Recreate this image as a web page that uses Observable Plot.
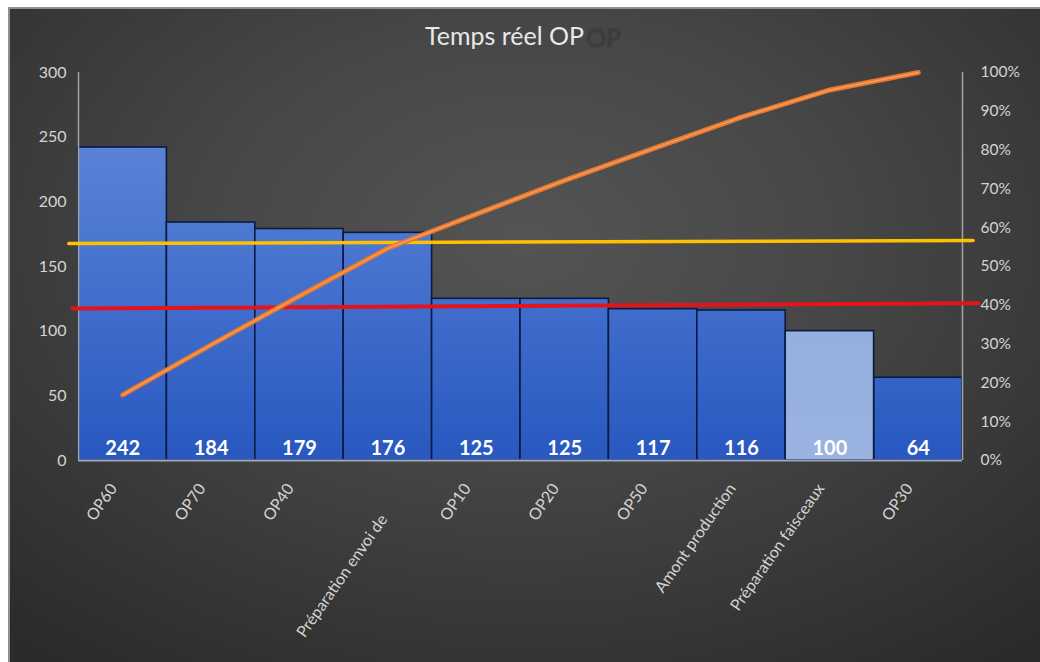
<!DOCTYPE html>
<html><head><meta charset="utf-8">
<script src="https://cdn.jsdelivr.net/npm/d3@7"></script>
<script src="https://cdn.jsdelivr.net/npm/@observablehq/plot@0.6"></script>
<style>
html,body{margin:0;padding:0;background:#fff;width:1040px;height:662px;overflow:hidden}
#frame{position:absolute;left:8px;top:7px;width:1032px;height:655px;box-sizing:border-box;border-left:2px solid #8f8f8f;border-top:2px solid #8f8f8f;background:radial-gradient(ellipse 75% 80% at 50% 35%, #545454 0%, #474747 40%, #2b2b2b 100%);font-family:Lato,"Open Sans",sans-serif;overflow:hidden}
#title{position:relative;height:48px;box-sizing:border-box}
#title .main{position:absolute;left:415px;top:12px;font-size:25px;color:#e8e8e8;line-height:28px;white-space:nowrap;z-index:2}
#title .ghost{position:absolute;left:576px;top:14px;font-size:25px;color:#363636;line-height:28px;filter:blur(1.2px);z-index:1}
svg{display:block}
</style></head>
<body>
<div id="frame">
  <div id="title"><span class="ghost">OP</span><span class="main">Temps réel OP</span></div>
  <div id="chart"></div>
</div>
<script>
const categories = ["OP60","OP70","OP40","Préparation envoi de","OP10","OP20","OP50","Amont production","Préparation faisceaux","OP30"];
const values = [242,184,179,176,125,125,117,116,100,64];
const cumulPct = [16.9,29.8,42.4,54.7,63.5,72.2,80.4,88.5,95.5,100];
const yellowPct = [55.9,56.7];
const redPct = [39.2,40.5];
const lineEndsX = [-0.11,10.12];
const redEndsX = [-0.07,10.18];
const leftTicks = [0,50,100,150,200,250,300];
const rightTicks = [0,10,20,30,40,50,60,70,80,90,100];
const highlighted = ["Préparation faisceaux"];
const wrappedLabels = ["Préparation envoi de"];

const bars = categories.map((c,i)=>({cat:c, i, v:values[i], pct:cumulPct[i]}));
const toLeft = p => p*3;
const yellow = lineEndsX.map((x,k)=>({x, y:toLeft(yellowPct[k])}));
const red = redEndsX.map((x,k)=>({x, y:toLeft(redPct[k])}));
const labelStyle = {x:d=>d.i+0.5, y:0, text:"cat", rotate:-55, textAnchor:"end", fill:"#d4d4d4", fontSize:16, letterSpacing:"0.8px"};

const chart = Plot.plot({
  width:1030, height:605,
  marginTop:15, marginBottom:202, marginLeft:68, marginRight:78,
  style:{background:"transparent", color:"#d9d9d9", fontFamily:"Lato, 'Open Sans', sans-serif", overflow:"visible"},
  x:{domain:[0,10], axis:null},
  y:{domain:[0,300], axis:null},
  marks:[
    Plot.rect(bars.filter(d=>!highlighted.includes(d.cat)), {x1:d=>d.i, x2:d=>d.i+1, y1:0, y2:d=>d.v, fill:"url(#barGrad)", stroke:"#0b1a42", strokeWidth:1.6}),
    Plot.rect(bars.filter(d=>highlighted.includes(d.cat)), {x1:d=>d.i, x2:d=>d.i+1, y1:0, y2:d=>d.v, fill:"url(#barGradLight)", stroke:"#0b1a42", strokeWidth:1.6}),
    Plot.ruleY([0], {x1:0, x2:10, stroke:"#9aa6bd", strokeWidth:2}),
    Plot.ruleX([0,10], {y1:0, y2:300, stroke:"#a3a3a3", strokeWidth:1.5}),
    Plot.text(bars, {x:d=>d.i+0.5, y:0, dy:-12, text:d=>String(d.v), fill:"#ffffff", fontWeight:"bold", fontSize:20}),
    Plot.line(yellow, {x:"x", y:"y", stroke:"#ffc000", strokeWidth:3.5}),
    Plot.line(red, {x:"x", y:"y", stroke:"#e5141b", strokeWidth:4}),
    Plot.line(bars, {x:d=>d.i+0.5, y:d=>toLeft(d.pct), stroke:"#e8782e", strokeWidth:5, strokeLinecap:"round"}),
    Plot.line(bars, {x:d=>d.i+0.5, y:d=>toLeft(d.pct), stroke:"#f5a060", strokeWidth:1.4, strokeLinecap:"round"}),
    Plot.axisY(leftTicks, {anchor:"left", label:null, tickSize:0, tickPadding:12, fontSize:16, fill:"#d4d4d4"}),
    Plot.axisY(rightTicks.map(toLeft), {anchor:"right", label:null, tickSize:0, tickPadding:18, fontSize:15.5, fill:"#d4d4d4", tickFormat:d=>Math.round(d/3)+"%"}),
    Plot.text(bars.filter(d=>!wrappedLabels.includes(d.cat)), {...labelStyle, dx:-9, dy:25}),
    Plot.text(bars.filter(d=>wrappedLabels.includes(d.cat)), {...labelStyle, dx:-4, dy:56})
  ]
});

const ys = chart.scale("y");
const yTop = ys.apply(300), yBot = ys.apply(0);
const defs = d3.select(chart).insert("defs", ":first-child");
const g1 = defs.append("linearGradient").attr("id","barGrad").attr("gradientUnits","userSpaceOnUse")
  .attr("x1",0).attr("x2",0).attr("y1",yTop).attr("y2",yBot);
g1.append("stop").attr("offset","0%").attr("stop-color","#668ddd");
g1.append("stop").attr("offset","100%").attr("stop-color","#2858c0");
const g2 = defs.append("linearGradient").attr("id","barGradLight").attr("gradientUnits","userSpaceOnUse")
  .attr("x1",0).attr("x2",0).attr("y1",yTop).attr("y2",yBot);
g2.append("stop").attr("offset","0%").attr("stop-color","#8aa6da");
g2.append("stop").attr("offset","100%").attr("stop-color","#9ab3e0");

document.getElementById("chart").appendChild(chart);
</script>
</body></html>
